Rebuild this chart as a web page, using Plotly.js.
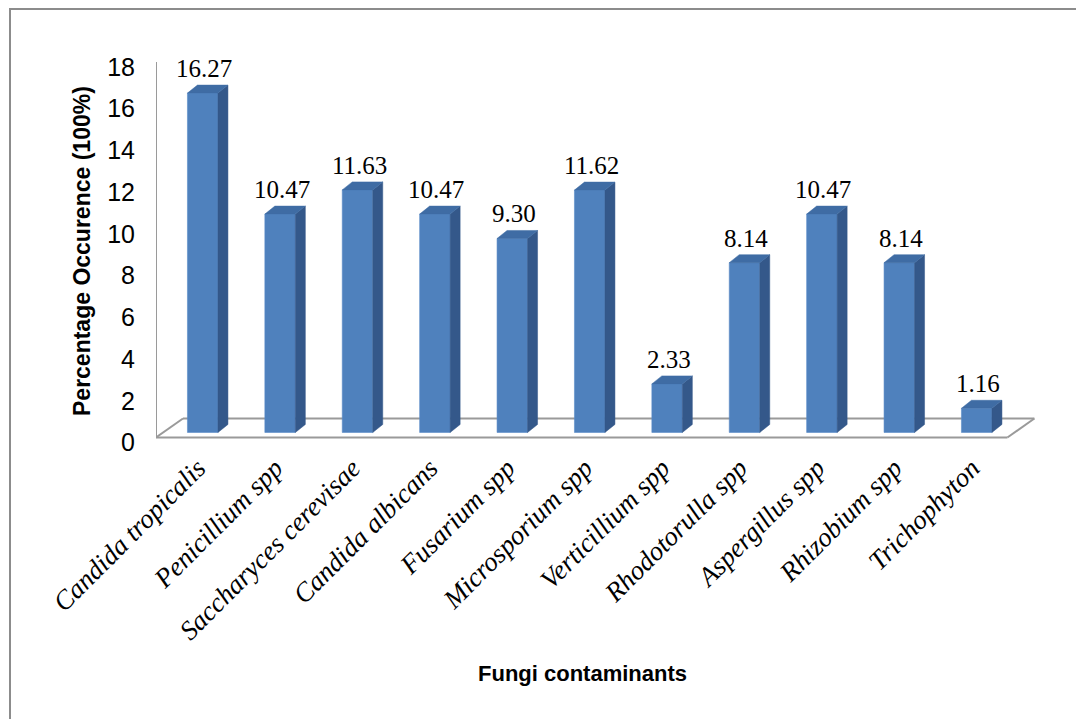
<!DOCTYPE html>
<html>
<head>
<meta charset="utf-8">
<script src="https://cdn.plot.ly/plotly-3.0.1.min.js"></script>
<style>
  html, body { margin: 0; padding: 0; background: #ffffff; }
  #wrap { position: relative; width: 1076px; height: 719px; overflow: hidden; }
  #chart { position: absolute; left: 0; top: 0; width: 1076px; height: 719px; }
  #frame { position: absolute; left: 9px; top: 8px; width: 1100px; height: 760px;
           border-left: 2px solid #8c8c8c; border-top: 2px solid #8c8c8c; pointer-events: none; }
</style>
</head>
<body>
<div id="wrap">
  <div id="chart"></div>
  <div id="frame"></div>
</div>
<script>
// Fungal isolates and their percentage occurrence
const categories = [
  'Candida tropicalis', 'Penicillium spp', 'Saccharyces cerevisae', 'Candida albicans',
  'Fusarium spp', 'Microsporium spp', 'Verticillium spp', 'Rhodotorulla spp',
  'Aspergillus spp', 'Rhizobium spp', 'Trichophyton'
];
const percentages = [16.27, 10.47, 11.63, 10.47, 9.30, 11.62, 2.33, 8.14, 10.47, 8.14, 1.16];
const yTickValues = [0, 2, 4, 6, 8, 10, 12, 14, 16, 18];

// Page and plot geometry (pixels)
const W = 1076, H = 719;
const M = { l: 156, r: 38, t: 62, b: 276 };
const CAT_PX = 77.4;   // pixels per category slot
const UNIT_PX = 20.86; // pixels per percentage unit
const toX = px => px / CAT_PX;
const toY = px => px / UNIT_PX;

// Oblique 3-D look: floor depth, bar placement and bar depth
const floorDX = toX(27), floorDY = toY(19);
const barDX0 = toX(8), barDY0 = toY(5);     // front face of bars sits a little behind the floor edge
const barW = toX(30.5);                      // front face width
const depthDX = toX(10), depthDY = toY(8);   // side / top face depth

const plotW = W - M.l - M.r, plotH = H - M.t - M.b;
const xRange = [-0.5, -0.5 + plotW / CAT_PX];
const yMax = 18;
const yRange = [yMax - plotH / UNIT_PX, yMax];

const idx = categories.map((_, i) => i);
const frontLeft = i => i - barW / 2 + barDX0;
const frontRight = i => i + barW / 2 + barDX0;
const base = barDY0;

// Side faces
const sideX = [], sideY = [];
idx.forEach(i => {
  const xr = frontRight(i), top = base + percentages[i];
  sideX.push(xr, xr + depthDX, xr + depthDX, xr, xr, null);
  sideY.push(base, base + depthDY, top + depthDY, top, base, null);
});
// Top faces
const topX = [], topY = [];
idx.forEach(i => {
  const xl = frontLeft(i), xr = frontRight(i), top = base + percentages[i];
  topX.push(xl, xr, xr + depthDX, xl + depthDX, xl, null);
  topY.push(top, top, top + depthDY, top + depthDY, top, null);
});

const gridGray = '#9a9a9a';
const n = categories.length;
const line = (x0, y0, x1, y1) => ({
  type: 'line', xref: 'x', yref: 'y', x0, y0, x1, y1, layer: 'below',
  line: { color: gridGray, width: 2 }
});
// Floor outline and the vertical value axis, drawn beneath the bars
const shapes = [
  line(-0.5, 0, n - 0.5, 0),
  line(-0.5 + floorDX, floorDY, n - 0.5 + floorDX, floorDY),
  line(-0.5, 0, -0.5 + floorDX, floorDY),
  line(n - 0.5, 0, n - 0.5 + floorDX, floorDY),
  line(-0.5, 0, -0.5, yMax)
];

const barTrace = {
  type: 'bar', x: idx, y: percentages, base: base,
  width: barW, offset: -barW / 2 + barDX0,
  marker: { color: '#4f81bd', line: { color: '#5b8cc8', width: 0.6 } },
  showlegend: false, hoverinfo: 'y'
};
const sideTrace = {
  type: 'scatter', mode: 'lines', fill: 'toself', x: sideX, y: sideY,
  fillcolor: '#34588a', line: { color: '#34588a', width: 0.5 },
  hoverinfo: 'skip', showlegend: false, cliponaxis: false
};
const topTrace = {
  type: 'scatter', mode: 'lines', fill: 'toself', x: topX, y: topY,
  fillcolor: '#3f6ca4', line: { color: '#3f6ca4', width: 0.5 },
  hoverinfo: 'skip', showlegend: false, cliponaxis: false
};

// Value labels above each bar
const valueLabels = idx.map(i => ({
  x: i + barDX0 + 0.02, y: base + percentages[i] + depthDY,
  xref: 'x', yref: 'y', yanchor: 'bottom', xanchor: 'center', yshift: 1,
  text: percentages[i].toFixed(2), showarrow: false,
  font: { family: 'Liberation Serif, Times New Roman, serif', size: 25, color: '#000' }
}));

const titleFont = { family: 'Liberation Sans, Arial, sans-serif', size: 23, color: '#000' };
const annotations = valueLabels.concat([
  {
    xref: 'paper', yref: 'paper', x: (82 - M.l) / plotW, y: 1 - (251 - M.t) / plotH,
    text: '<b>Percentage Occurence (100%)</b>', textangle: -90, showarrow: false,
    xanchor: 'center', yanchor: 'middle', font: titleFont
  },
  {
    xref: 'paper', yref: 'paper', x: (582 - M.l) / plotW, y: 1 - (673 - M.t) / plotH,
    text: '<b>Fungi contaminants</b>', showarrow: false,
    xanchor: 'center', yanchor: 'middle', font: { ...titleFont, size: 22 }
  }
]);

const layout = {
  width: W, height: H,
  margin: M,
  paper_bgcolor: '#ffffff', plot_bgcolor: 'rgba(0,0,0,0)',
  showlegend: false,
  xaxis: {
    range: xRange, showgrid: false, zeroline: false, showline: false,
    tickmode: 'array', tickvals: idx.map(i => i + toX(3)), ticktext: categories,
    tickangle: -45, ticks: '', ticklabelstandoff: 3,
    tickfont: { family: 'Liberation Serif, Times New Roman, serif', size: 27, style: 'italic', color: '#000' },
    fixedrange: true
  },
  yaxis: {
    range: yRange, showgrid: false, zeroline: false, showline: false,
    tickmode: 'array', tickvals: yTickValues, ticks: '', ticklabelstandoff: 20,
    ticklabelshift: 5,
    tickfont: { family: 'Liberation Sans, Arial, sans-serif', size: 25, color: '#000' },
    fixedrange: true
  },
  shapes: shapes,
  annotations: annotations
};

Plotly.newPlot('chart', [barTrace, sideTrace, topTrace], layout,
  { displayModeBar: false, staticPlot: true });
</script>
</body>
</html>
